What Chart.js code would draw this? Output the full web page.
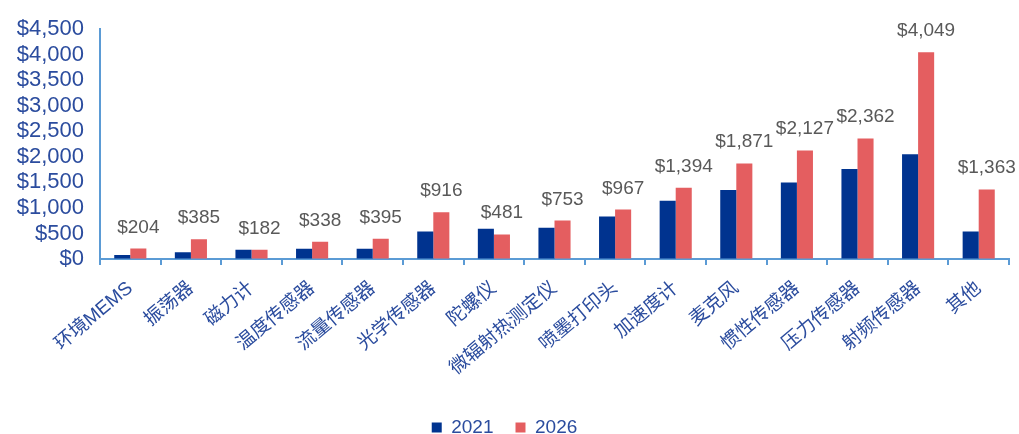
<!DOCTYPE html>
<html>
<head>
<meta charset="UTF-8">
<script src="https://cdn.jsdelivr.net/npm/chart.js@4"></script>
<style>
  html, body { margin:0; padding:0; background:#fff; }
  #wrap { width:1019px; height:434px; position:relative; }
</style>
</head>
<body>
<div id="wrap"><canvas id="c"></canvas></div>
<script>
const categories = ['环境MEMS','振荡器','磁力计','温度传感器','流量传感器','光学传感器','陀螺仪','微辐射热测定仪','喷墨打印头','加速度计','麦克风','惯性传感器','压力传感器','射频传感器','其他'];
const values2021 = [80, 130, 180, 200, 200, 540, 590, 610, 830, 1140, 1350, 1500, 1760, 2050, 540];
const values2026 = [204, 385, 182, 338, 395, 916, 481, 753, 967, 1394, 1871, 2127, 2362, 4049, 1363];
const yTicks = [0, 500, 1000, 1500, 2000, 2500, 3000, 3500, 4000, 4500];

const BLUE = '#00338F', RED = '#E45E60', AXIS = '#5B9BD5', TXT = '#2B4C9E';
const FONT = "'Liberation Sans', Arial, 'Noto Sans CJK SC', sans-serif";
const money = v => '$' + v.toLocaleString('en-US');

// 2026 数值标签
const valueLabels = {
  id: 'valueLabels',
  afterDatasetsDraw(chart) {
    const ctx = chart.ctx;
    const meta = chart.getDatasetMeta(1);
    ctx.save();
    ctx.font = '19px ' + FONT;
    ctx.fillStyle = '#595959';
    ctx.textAlign = 'center';
    ctx.textBaseline = 'alphabetic';
    meta.data.forEach((el, i) => {
      ctx.fillText(money(values2026[i]), el.x, el.y - 16);
    });
    ctx.restore();
  }
};

new Chart(document.getElementById('c'), {
  type: 'bar',
  data: {
    labels: categories,
    datasets: [
      { label: '2021', data: values2021, backgroundColor: BLUE },
      { label: '2026', data: values2026, backgroundColor: RED }
    ]
  },
  options: {
    responsive: true,
    maintainAspectRatio: false,
    animation: false,
    datasets: { bar: { categoryPercentage: 0.53, barPercentage: 1.0 } },
    layout: { padding: { top: 16, right: 10, left: 0, bottom: -13 } },
    plugins: {
      tooltip: { enabled: false },
      legend: {
        position: 'bottom',
        labels: {
          boxWidth: 10, boxHeight: 10, padding: 22,
          color: TXT, font: { family: FONT, size: 19 }
        }
      }
    },
    scales: {
      x: {
        grid: { offset: true, drawOnChartArea: false, drawTicks: true, tickLength: 6, color: AXIS, lineWidth: 2 },
        border: { color: AXIS, width: 2 },
        ticks: { color: TXT, font: { family: FONT, size: 19 }, minRotation: 40, maxRotation: 40, padding: 12, autoSkip: false },
        afterFit: s => { s.height = 137; }
      },
      y: {
        min: 0, max: 4500,
        afterBuildTicks: s => { s.ticks = yTicks.map(v => ({ value: v })); },
        grid: { drawOnChartArea: false, drawTicks: false },
        border: { color: AXIS, width: 2 },
        ticks: { color: TXT, font: { family: FONT, size: 22 }, padding: 16, autoSkip: false, callback: v => money(v) },
        afterFit: s => { s.width = 100; }
      }
    }
  },
  plugins: [valueLabels]
});
</script>
</body>
</html>
